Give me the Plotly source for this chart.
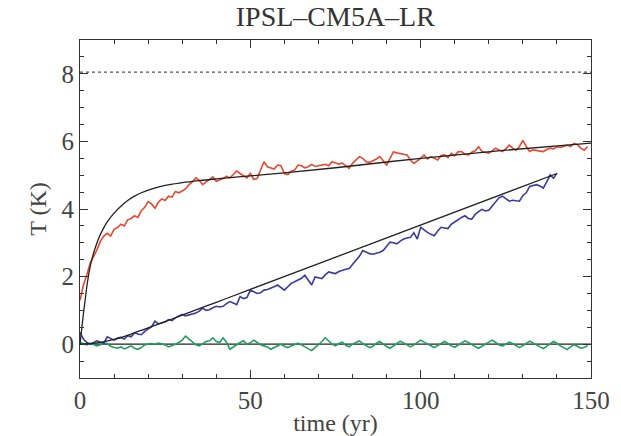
import plotly.graph_objects as go

# abrupt 4xCO2 (red), years 0..149
red_T = [1.30, 1.75, 2.05, 2.40, 2.60, 2.80, 3.05, 3.20, 3.28, 3.20, 3.40,
         3.45, 3.55, 3.50, 3.68, 3.72, 3.80, 3.75, 3.95, 4.05, 4.22,
         4.15, 4.02, 4.20, 4.30, 4.25, 4.38, 4.35, 4.52, 4.48, 4.53,
         4.60, 4.72, 4.80, 4.92, 4.85, 4.72, 4.80, 4.88, 4.95, 4.82,
         4.85, 4.90, 4.97, 4.92, 5.02, 5.12, 5.05, 4.98, 4.92, 5.05,
         4.88, 4.90, 5.15, 5.40, 5.25, 5.22, 5.18, 5.30, 5.28, 5.05,
         5.02, 5.12, 5.15, 5.30, 5.28, 5.22, 5.25, 5.32, 5.26, 5.28,
         5.30, 5.32, 5.28, 5.40, 5.36, 5.33, 5.36, 5.28, 5.20, 5.35,
         5.45, 5.55, 5.50, 5.40, 5.38, 5.42, 5.48, 5.55, 5.42, 5.30,
         5.50, 5.69, 5.66, 5.65, 5.62, 5.60, 5.45, 5.35, 5.42, 5.50,
         5.60, 5.48, 5.55, 5.50, 5.45, 5.58, 5.60, 5.52, 5.65, 5.58,
         5.69, 5.70, 5.62, 5.60, 5.68, 5.72, 5.84, 5.70, 5.68, 5.65,
         5.72, 5.80, 5.75, 5.70, 5.78, 5.89, 5.80, 5.74, 5.85, 6.03,
         5.85, 5.70, 5.75, 5.74, 5.72, 5.70, 5.76, 5.80, 5.78, 5.84,
         5.82, 5.86, 5.89, 5.85, 5.94, 5.90, 5.80, 5.74, 5.85]

# 1pctCO2 (blue), years 0..139
blue_T = [0.35, 0.15, 0.05, 0.00, 0.05, 0.10, 0.06, 0.03, 0.22, 0.18, 0.12,
          0.18, 0.20, 0.15, 0.25, 0.22, 0.34, 0.30, 0.28, 0.38, 0.44,
          0.52, 0.68, 0.60, 0.63, 0.66, 0.73, 0.70, 0.78, 0.82, 0.88,
          0.84, 0.86, 0.90, 0.92, 0.98, 1.07, 1.00, 1.02, 1.08, 1.12,
          1.10, 1.12, 1.20, 1.26, 1.22, 1.17, 1.41, 1.35, 1.38, 1.60,
          1.55, 1.50, 1.52, 1.60, 1.62, 1.65, 1.70, 1.75, 1.68, 1.60,
          1.70, 1.80, 1.85, 1.90, 1.95, 2.04, 1.88, 1.75, 1.99, 1.96,
          1.94, 2.05, 2.14, 2.11, 2.09, 2.15, 2.19, 2.22, 2.24, 2.35,
          2.48, 2.60, 2.77, 2.72, 2.68, 2.66, 2.68, 2.72, 2.77, 2.90,
          3.02, 3.00, 2.97, 3.05, 3.11, 3.14, 3.16, 3.30, 3.11, 3.46,
          3.38, 3.31, 3.25, 3.21, 3.35, 3.46, 3.44, 3.42, 3.55, 3.62,
          3.70, 3.75, 3.80, 3.72, 3.70, 3.84, 3.92, 3.99, 3.94, 3.96,
          4.09, 4.20, 4.33, 4.38, 4.30, 4.23, 4.26, 4.25, 4.23, 4.40,
          4.48, 4.67, 4.70, 4.72, 4.68, 4.62, 4.80, 5.01, 4.91, 5.06]

# piControl (green), years 0..149
green_T = [0.05, 0.02, -0.02, 0.03, 0.00, -0.05, -0.02, 0.04, 0.02, -0.06, -0.10,
           -0.12, -0.08, -0.14, -0.10, -0.05, -0.12, -0.15, -0.10, -0.02, 0.01,
           0.02, 0.00, 0.03, 0.01, -0.02, -0.08, -0.05, 0.00, 0.05, 0.12,
           0.24, 0.15, 0.05, -0.02, -0.05, 0.02, 0.08, 0.10, 0.19, 0.08,
           0.05, 0.19, 0.06, -0.15, -0.08, -0.02, 0.05, 0.10, 0.00, 0.04,
           0.12, 0.05, -0.02, -0.05, -0.08, -0.15, -0.10, -0.05, 0.00, -0.06,
           -0.10, -0.05, 0.00, 0.03, -0.02, -0.08, -0.12, -0.19, -0.10, -0.02,
           0.08, 0.19, 0.10, 0.00, -0.05, 0.02, 0.06, -0.03, -0.08, 0.00,
           0.05, 0.10, 0.02, -0.04, -0.10, -0.06, 0.03, 0.08, 0.00, -0.07,
           -0.12, -0.05, 0.02, 0.09, 0.04, -0.03, -0.08, -0.02, 0.05, 0.12,
           0.06, 0.00, -0.06, -0.10, -0.04, 0.03, 0.08, 0.02, -0.05, -0.09,
           -0.03, 0.04, 0.10, 0.05, -0.02, -0.07, -0.12, -0.06, 0.01, 0.07,
           0.12, 0.05, -0.02, -0.06, 0.00, 0.06, 0.02, -0.05, -0.10, -0.04,
           0.03, 0.09, 0.04, -0.03, -0.08, -0.13, -0.06, 0.02, 0.08, 0.03,
           -0.05, -0.10, -0.16, -0.08, -0.02, -0.06, -0.12, -0.10, -0.04]

red_years = list(range(len(red_T)))
blue_years = list(range(len(blue_T)))
green_years = list(range(len(green_T)))

# fitted model curves (black)
fit4x_t = [0, 0.5, 1, 1.5, 2, 3, 4, 5, 6, 7, 8, 10, 12, 14, 16, 18, 20, 25, 30,
           35, 40, 50, 60, 75, 100, 125, 150]
fit4x_T = [0.0, 0.45, 0.9, 1.3, 1.7, 2.3, 2.7, 3.0, 3.25, 3.45, 3.62, 3.88, 4.08,
           4.25, 4.38, 4.48, 4.56, 4.70, 4.78, 4.84, 4.89, 4.98, 5.07, 5.22, 5.50,
           5.74, 5.95]
fit1pct_t = [0, 5, 10, 15, 20, 25, 30, 40, 50, 140]
fit1pct_T = [0.0, 0.04, 0.14, 0.30, 0.48, 0.67, 0.86, 1.24, 1.62, 5.05]
fitctl_t = [0, 150]
fitctl_T = [0.0, 0.0]

equil_t = [0, 150]
equil_T = [8.05, 8.05]

fig = go.Figure()
fig.add_trace(go.Scatter(x=equil_t, y=equil_T, mode="lines",
                         line=dict(color="#555555", width=1.4, dash="dot")))
fig.add_trace(go.Scatter(x=fitctl_t, y=fitctl_T, mode="lines",
                         line=dict(color="#222222", width=1.3)))
fig.add_trace(go.Scatter(x=green_years, y=green_T, mode="lines",
                         line=dict(color="#20a060", width=1.6)))
fig.add_trace(go.Scatter(x=blue_years, y=blue_T, mode="lines",
                         line=dict(color="#3a3aa0", width=1.6)))
fig.add_trace(go.Scatter(x=red_years, y=red_T, mode="lines",
                         line=dict(color="#e8482e", width=1.6)))
fig.add_trace(go.Scatter(x=fit4x_t, y=fit4x_T, mode="lines", line_shape="spline",
                         line=dict(color="#222222", width=1.3)))
fig.add_trace(go.Scatter(x=fit1pct_t, y=fit1pct_T, mode="lines", line_shape="spline",
                         line=dict(color="#222222", width=1.3)))

font_family = "Liberation Serif, Times New Roman, serif"
axis_common = dict(showgrid=False, zeroline=False, showline=True, linecolor="#333333",
                   linewidth=1.2, mirror="allticks", ticks="inside", ticklen=8,
                   tickcolor="#333333", automargin=False,
                   tickfont=dict(family=font_family, size=25, color="#444444"))

fig.update_layout(
    width=621, height=436,
    margin=dict(l=80, r=30, t=40, b=58),
    paper_bgcolor="white", plot_bgcolor="white",
    showlegend=False,
    title=dict(text="IPSL\u2013CM5A\u2013LR", x=0.54, xanchor="center", y=0.963, yanchor="middle",
               font=dict(family=font_family, size=28, color="#333333")),
    xaxis=dict(range=[0, 150], tickvals=[0, 50, 100, 150],
               minor=dict(dtick=10, ticks="inside", ticklen=4, tickcolor="#333333"),
               title=dict(text="time (yr)", font=dict(family=font_family, size=24, color="#444444"),
                          standoff=4),
               **axis_common),
    yaxis=dict(range=[-1, 9], tickvals=[0, 2, 4, 6, 8],
               minor=dict(dtick=0.5, ticks="inside", ticklen=4, tickcolor="#333333"),
               title=dict(text="T (K)", font=dict(family=font_family, size=24, color="#444444"),
                          standoff=8),
               **axis_common),
)

fig.write_html("out.html")
